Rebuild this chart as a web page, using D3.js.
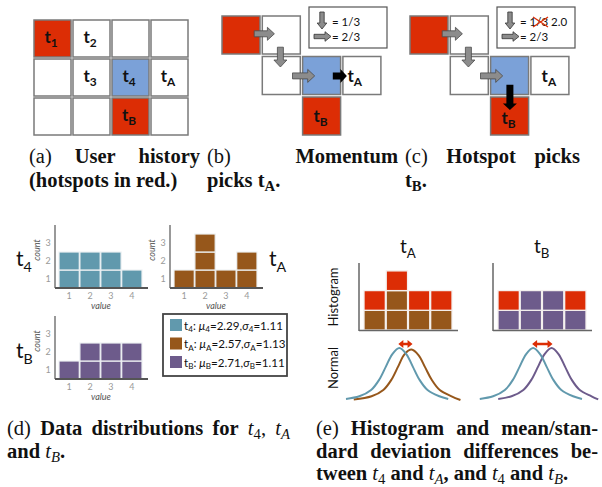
<!DOCTYPE html>
<html>
<head>
<meta charset="utf-8">
<script src="https://cdn.jsdelivr.net/npm/d3@7"></script>
<style>
body{margin:0;background:#fff;}
svg{display:block;}
</style>
</head>
<body>
<script>
// ---- data ----

// panel (a): user history grid, [col, row, kind, label subscript]
var historyCells = [
  [0,0,"hot","1"],[1,0,"plain","2"],[2,0,"plain",""],[3,0,"plain",""],
  [0,1,"plain",""],[1,1,"plain","3"],[2,1,"current","4"],[3,1,"plain","A"],
  [0,2,"plain",""],[1,2,"plain",""],[2,2,"hot","B"],[3,2,"plain",""]
];
// panels (b),(c): visited path, [col, row, kind, label subscript]
var pathCells = [
  [0,0,"hot",""],[1,0,"plain",""],[1,1,"plain",""],
  [2,1,"current",""],[3,1,"plain","A"],[2,2,"hot","B"]
];
// gray path arrows in grid units [fromCol, fromRow, toCol, toRow]
var pathArrows = [[0.8,0.44,1.3,0.44],[1.45,0.77,1.45,1.26],[1.75,1.48,2.3,1.48]];
var momentumArrow = [2.75,1.48,3.1,1.48];
var hotspotArrow = [2.48,1.7,2.48,2.32];

// panel (d): value histograms
var values = [1,2,3,4];
var countT4 = [2,2,2,1];
var countA = [1,3,1,2];
var countB = [1,2,2,2];
var countTicks = [1,2,3];
var legendKeys = ["4","A","B"];
var legendMu = ["2.29","2.57","2.71"];
var legendSigma = ["1.11","1.13","1.11"];

// panel (e): normal curves, [value, relative density]
var normT4left = [[-0.29,0.03],[0.31,0.08],[0.84,0.2],[1.21,0.4],[1.51,0.65],[1.79,0.88],[2.11,1],[2.43,0.88],[2.71,0.65],[3.01,0.4],[3.38,0.2],[3.91,0.08],[4.31,0.03]];
var normA = [[0.06,0.02],[0.86,0.08],[1.39,0.2],[1.76,0.4],[2.06,0.65],[2.34,0.88],[2.66,0.97],[2.98,0.86],[3.26,0.64],[3.56,0.4],[3.93,0.2],[4.46,0.08],[4.86,0.01]];
var normT4right = [[-0.3,0.03],[0.3,0.08],[0.83,0.2],[1.2,0.4],[1.5,0.65],[1.78,0.88],[2.1,1],[2.42,0.88],[2.7,0.65],[3.0,0.4],[3.37,0.2],[3.9,0.08],[4.3,0.03]];
var normB = [[0.53,0.03],[1.13,0.08],[1.66,0.2],[2.03,0.4],[2.33,0.65],[2.61,0.88],[2.93,1],[3.25,0.88],[3.53,0.65],[3.83,0.4],[4.2,0.2],[4.73,0.08],[5.03,0.02]];

// captions: lines of words, each word a list of [text, style] runs
// style letters: b bold, i italic, s subscript
var capA = [
  {j:true, w:[[["(a)",""]],[["User","b"]],[["history","b"]]]},
  {j:false, w:[[["(hotspots","b"]],[["in","b"]],[["red.)","b"]]]}
];
var capB = [
  {j:true, w:[[["(b)",""]],[["Momentum","b"]]]},
  {j:false, w:[[["picks","b"]],[["t","b"],["A","bs"],[".","b"]]]}
];
var capC = [
  {j:true, w:[[["(c)",""]],[["Hotspot","b"]],[["picks","b"]]]},
  {j:false, w:[[["t","b"],["B","bs"],[".","b"]]]}
];
var capD = [
  {j:true, w:[[["(d)",""]],[["Data","b"]],[["distributions","b"]],[["for","b"]],[["t","i"],["4","s"],[",",""]],[["t","i"],["A","is"]]]},
  {j:false, w:[[["and","b"]],[["t","i"],["B","is"],[".","b"]]]}
];
var capE = [
  {j:true, w:[[["(e)",""]],[["Histogram","b"]],[["and","b"]],[["mean/stan-","b"]]]},
  {j:true, w:[[["dard","b"]],[["deviation","b"]],[["differences","b"]],[["be-","b"]]]},
  {j:false, w:[[["tween","b"]],[["t","i"],["4","s"]],[["and","b"]],[["t","i"],["A","is"],[",","b"]],[["and","b"]],[["t","i"],["4","s"]],[["and","b"]],[["t","i"],["B","is"],[".","b"]]]}
];

// ---- colours ----
var red = "#dc2d05", blue = "#7ba1d8", teal = "#6199ad", brown = "#96571b", purple = "#6d5b8b";
var kindFill = {hot: red, current: blue, plain: "#fff"};

var width = 602, height = 487;
var svg = d3.select("body").append("svg")
  .attr("width", width)
  .attr("height", height);

var sans = "Lato, 'Liberation Sans', sans-serif";
var serif = "'Liberation Serif', 'DejaVu Serif', serif";

//append runs of text (with subscripts) to a text selection
function addRuns(t, runs, size, subScale, subShift){
  var shifted = 0;
  subScale = subScale || 0.7;
  subShift = subShift || 0.25;
  runs.forEach(function(r){
    var s = r[1] || "";
    var sub = s.indexOf("s") >= 0;
    var sp = t.append("tspan").text(r[0])
      .attr("font-weight", s.indexOf("b") >= 0 ? "bold" : "normal")
      .attr("font-style", s.indexOf("i") >= 0 ? "italic" : "normal")
      .attr("font-size", sub ? size * subScale : size);
    var want = sub ? size * subShift : 0;
    if (want !== shifted){ sp.attr("dy", want - shifted); shifted = want; }
  });
}

//justified caption block
function caption(lines, x0, x1, y0, lh, size){
  var g = svg.append("g").attr("font-family", serif).attr("fill", "#111");
  lines.forEach(function(line, li){
    var nodes = line.w.map(function(w){
      var t = g.append("text").attr("y", y0 + li * lh);
      addRuns(t, w, size, 0.72, 0.2);
      return t;
    });
    var widths = nodes.map(function(n){ return n.node().getComputedTextLength(); });
    var gap = (line.j && nodes.length > 1) ? (x1 - x0 - d3.sum(widths)) / (nodes.length - 1) : size * 0.25;
    var x = x0;
    nodes.forEach(function(n, i){ n.attr("x", x); x += widths[i] + gap; });
  });
}

//block arrow outline path
function blockArrow(x1, y1, x2, y2, sw, hw, hl){
  var dx = x2 - x1, dy = y2 - y1, L = Math.hypot(dx, dy),
      ux = dx / L, uy = dy / L, px = -uy, py = ux,
      bx = x2 - ux * hl, by = y2 - uy * hl;
  var pts = [[x1 + px*sw, y1 + py*sw],[bx + px*sw, by + py*sw],[bx + px*hw, by + py*hw],[x2, y2],
             [bx - px*hw, by - py*hw],[bx - px*sw, by - py*sw],[x1 - px*sw, y1 - py*sw]];
  return "M" + pts.map(function(p){ return p[0].toFixed(1) + "," + p[1].toFixed(1); }).join("L") + "Z";
}

//cell label like t_1
function cellLabel(g, x, y, sub, anchor){
  if (!sub) return;
  var t = g.append("text").attr("x", x).attr("y", y)
    .attr("text-anchor", anchor || "middle")
    .attr("font-family", sans).attr("fill", "#111");
  addRuns(t, [["t","b"],[sub,"bs"]], 17);
}

// ---- (a) user history ----
var ax = d3.scaleLinear().domain([0,1]).range([34, 73]),
    ay = d3.scaleLinear().domain([0,1]).range([20, 59]);
var gA = svg.append("g");
gA.selectAll("rect").data(historyCells).enter().append("rect")
  .attr("x", function(d){ return ax(d[0]); })
  .attr("y", function(d){ return ay(d[1]); })
  .attr("width", 37).attr("height", 37)
  .attr("fill", function(d){ return kindFill[d[2]]; })
  .attr("stroke", "#7a7a7a").attr("stroke-width", 1.5);
historyCells.forEach(function(d){
  cellLabel(gA, ax(d[0]) + 17, ay(d[1]) + 23, d[3]);
});

// ---- (b) and (c) path panels ----
function pathPanel(x0, final, legendMode){
  var gx = d3.scaleLinear().domain([0,1]).range([x0, x0 + 40.3]),
      gy = d3.scaleLinear().domain([0,1]).range([16, 56.5]);
  var g = svg.append("g");
  g.selectAll("rect.cell").data(pathCells).enter().append("rect")
    .attr("class", "cell")
    .attr("x", function(d){ return gx(d[0]); })
    .attr("y", function(d){ return gy(d[1]); })
    .attr("width", 38).attr("height", 38)
    .attr("fill", function(d){ return kindFill[d[2]]; })
    .attr("stroke", "#7a7a7a").attr("stroke-width", 1.5);

  g.selectAll("path.step").data(pathArrows).enter().append("path")
    .attr("class", "step")
    .attr("d", function(d){ return blockArrow(gx(d[0]), gy(d[1]), gx(d[2]), gy(d[3]), 3, 6.5, 7); })
    .attr("fill", "#8c8c8c").attr("stroke", "#4a4a4a").attr("stroke-width", 0.8);

  g.append("path")
    .attr("d", blockArrow(gx(final[0]), gy(final[1]), gx(final[2]), gy(final[3]), 3.5, 7, 6.5))
    .attr("fill", "#000");

  // labels
  if (legendMode === "momentum"){
    cellLabel(g, gx(final[2]) + 0.5, gy(1) + 25, "A", "start");
    cellLabel(g, gx(2) + 18, gy(2) + 25, "B");
  } else {
    cellLabel(g, gx(3) + 18, gy(1) + 25, "A");
    cellLabel(g, gx(2) + 18, gy(2) + 27, "B");
  }

  // legend box
  var lx = x0 + 87;
  g.append("rect").attr("x", lx).attr("y", 7).attr("width", 78).attr("height", 41)
    .attr("fill", "#fff").attr("stroke", "#555").attr("stroke-width", 1.2);
  g.append("path").attr("d", blockArrow(lx + 13, 12, lx + 13, 29, 2.2, 4.8, 6))
    .attr("fill", "#8c8c8c").attr("stroke", "#333").attr("stroke-width", 0.8);
  g.append("path").attr("d", blockArrow(lx + 5, 36.5, lx + 22, 36.5, 2.2, 4.8, 6))
    .attr("fill", "#8c8c8c").attr("stroke", "#333").attr("stroke-width", 0.8);
  var t1 = g.append("text").attr("x", lx + 23).attr("y", 26)
    .attr("font-family", sans).attr("font-size", 11.5).attr("fill", "#111")
    .text("= 1/3");
  if (legendMode === "hotspot"){
    t1.append("tspan").text(" 2.0");
    var cx = lx + 36;
    g.append("path").attr("d", "M" + cx + ",17L" + (cx + 15) + ",27M" + cx + ",27L" + (cx + 15) + ",17")
      .attr("stroke", red).attr("stroke-width", 1.3).attr("fill", "none");
  }
  g.append("text").attr("x", lx + 23).attr("y", 40.5)
    .attr("font-family", sans).attr("font-size", 11.5).attr("fill", "#111")
    .text("= 2/3");
}
pathPanel(222, momentumArrow, "momentum");
pathPanel(410, hotspotArrow, "hotspot");

// ---- (d) histograms ----
function histogram(left, bottom, counts, color){
  var x = d3.scaleBand().domain(values).range([left + 4, left + 87]).paddingInner(0.03),
      y = d3.scaleLinear().domain([0, 3.5]).range([bottom, bottom - 63]);
  var g = svg.append("g");
  var cells = [];
  counts.forEach(function(c, i){ d3.range(c).forEach(function(k){ cells.push([values[i], k]); }); });
  g.selectAll("rect").data(cells).enter().append("rect")
    .attr("x", function(d){ return x(d[0]); })
    .attr("y", function(d){ return y(d[1] + 1); })
    .attr("width", x.bandwidth())
    .attr("height", y(0) - y(1))
    .attr("fill", color).attr("stroke", "#eef2f4").attr("stroke-width", 1.2);
  g.append("line").attr("x1", left).attr("x2", left).attr("y1", y(3.5)).attr("y2", bottom)
    .attr("stroke", "#777").attr("stroke-width", 1.5);
  g.append("line").attr("x1", left).attr("x2", left + 93).attr("y1", bottom).attr("y2", bottom)
    .attr("stroke", "#555").attr("stroke-width", 2);
  g.selectAll("text.yt").data(countTicks).enter().append("text")
    .attr("class", "yt")
    .attr("x", left - 7).attr("y", function(d){ return y(d - 0.5) + 3; })
    .attr("text-anchor", "middle").attr("font-family", sans).attr("font-size", 9)
    .attr("fill", "#9a9a9a").text(function(d){ return d; });
  g.selectAll("text.xt").data(values).enter().append("text")
    .attr("class", "xt")
    .attr("x", function(d){ return x(d) + x.bandwidth() / 2; }).attr("y", bottom + 11)
    .attr("text-anchor", "middle").attr("font-family", sans).attr("font-size", 9)
    .attr("fill", "#9a9a9a").text(function(d){ return d; });
  g.append("text").attr("x", left + 46).attr("y", bottom + 21)
    .attr("text-anchor", "middle").attr("font-family", sans).attr("font-size", 9)
    .attr("font-style", "italic").attr("fill", "#555").text("value");
  g.append("text").attr("transform", "translate(" + (left - 15) + "," + (bottom - 38) + ") rotate(-90)")
    .attr("text-anchor", "middle").attr("font-family", sans).attr("font-size", 9)
    .attr("font-style", "italic").attr("fill", "#555").text("count");
}
histogram(55, 288, countT4, teal);
histogram(170, 288, countA, brown);
histogram(55, 379, countB, purple);

function bigLabel(x, y, sub){
  var t = svg.append("text").attr("x", x).attr("y", y)
    .attr("font-family", sans).attr("fill", "#111");
  addRuns(t, [["t",""],[sub,"s"]], 21, 0.68, 0.28);
}
bigLabel(16, 266, "4");
bigLabel(269, 266, "A");
bigLabel(16, 358, "B");

// legend
var legColors = [teal, brown, purple];
var gL = svg.append("g");
gL.append("rect").attr("x", 163).attr("y", 314).attr("width", 124).attr("height", 62)
  .attr("fill", "#fff").attr("stroke", "#444").attr("stroke-width", 1.8);
legendKeys.forEach(function(k, i){
  var yy = 325 + i * 18.5;
  gL.append("rect").attr("x", 170).attr("y", yy - 6).attr("width", 12).attr("height", 12)
    .attr("fill", legColors[i]);
  var t = gL.append("text").attr("x", 184).attr("y", yy + 4.5)
    .attr("font-family", sans).attr("fill", "#111");
  addRuns(t, [["t",""],[k,"s"],[": ",""],["μ","i"],[k,"s"],["=" + legendMu[i] + ",",""],["σ","i"],[k,"s"],["=" + legendSigma[i],""]], 11.6);
});

// ---- (e) histogram differences and normal curves ----
function diffPanel(left, counts, color, curveA, curveB, title){
  var x = d3.scaleBand().domain(values).range([left + 5, left + 93]).paddingInner(0.04),
      y = d3.scaleLinear().domain([0, 3.4]).range([330, 263]);
  var g = svg.append("g");
  var cells = [];
  counts.forEach(function(c, i){
    var lo = Math.min(c, countT4[i]), hi = Math.max(c, countT4[i]);
    d3.range(hi).forEach(function(k){ cells.push([values[i], k, k < lo ? color : red]); });
  });
  g.selectAll("rect").data(cells).enter().append("rect")
    .attr("x", function(d){ return x(d[0]); })
    .attr("y", function(d){ return y(d[1] + 1); })
    .attr("width", x.bandwidth())
    .attr("height", y(0) - y(1))
    .attr("fill", function(d){ return d[2]; })
    .attr("stroke", "#f4f0ee").attr("stroke-width", 1.3);
  g.append("line").attr("x1", left).attr("x2", left).attr("y1", 263).attr("y2", 331)
    .attr("stroke", "#666").attr("stroke-width", 1.5);
  g.append("line").attr("x1", left).attr("x2", left + 99).attr("y1", 330.5).attr("y2", 330.5)
    .attr("stroke", "#666").attr("stroke-width", 1.5);

  var t = g.append("text").attr("x", left + 41).attr("y", 253)
    .attr("font-family", sans).attr("fill", "#111");
  addRuns(t, [["t",""],[title,"s"]], 19);

  // normal curves
  var xv = d3.scaleLinear().domain([1, 4]).range([x(1) + x.bandwidth() / 2, x(4) + x.bandwidth() / 2]),
      yv = d3.scaleLinear().domain([0, 1]).range([400.5, 348]);
  var line = d3.line().x(function(d){ return xv(d[0]); }).y(function(d){ return yv(d[1]); })
    .curve(d3.curveCatmullRom.alpha(0.5));
  g.append("path").attr("d", line(curveB)).attr("fill", "none")
    .attr("stroke", color).attr("stroke-width", 2);
  g.append("path").attr("d", line(curveA)).attr("fill", "none")
    .attr("stroke", teal).attr("stroke-width", 2);

  // mean shift arrow
  var pa = curveA[d3.maxIndex(curveA, function(d){ return d[1]; })][0],
      pb = curveB[d3.maxIndex(curveB, function(d){ return d[1]; })][0];
  var x1 = xv(pa) - 1, x2 = xv(pb) + 1, ya = 344;
  g.append("line").attr("x1", x1 + 3).attr("x2", x2 - 3).attr("y1", ya).attr("y2", ya)
    .attr("stroke", red).attr("stroke-width", 2.5);
  g.append("path").attr("d", "M" + x1 + "," + ya + "l5,-4l0,8Z M" + x2 + "," + ya + "l-5,-4l0,8Z")
    .attr("fill", red);
}
diffPanel(359, countA, brown, normT4left, normA, "A");
diffPanel(493, countB, purple, normT4right, normB, "B");

svg.append("text").attr("transform", "translate(338,297) rotate(-90)")
  .attr("text-anchor", "middle").attr("font-family", sans).attr("font-size", 13)
  .attr("fill", "#111").text("Histogram");
svg.append("text").attr("transform", "translate(338,368) rotate(-90)")
  .attr("text-anchor", "middle").attr("font-family", sans).attr("font-size", 13)
  .attr("fill", "#111").text("Normal");

// ---- captions ----
caption(capA, 29, 200, 163, 24, 20.5);
caption(capB, 207, 398, 163, 24, 20.5);
caption(capC, 405, 580, 163, 24, 20.5);
caption(capD, 7, 290, 435, 22.5, 20.5);
caption(capE, 316, 598, 435, 22.5, 20.5);
</script>
</body>
</html>
